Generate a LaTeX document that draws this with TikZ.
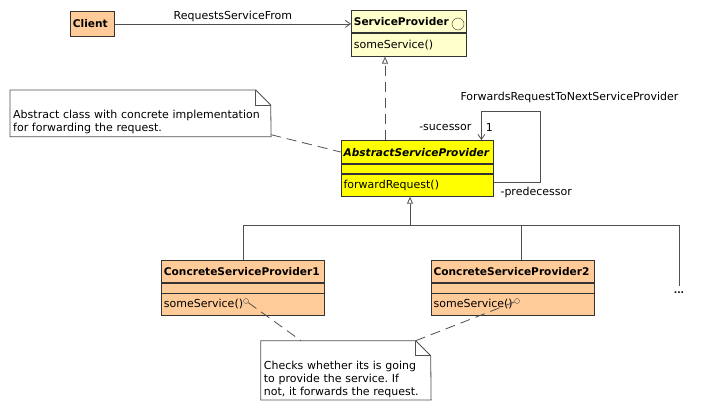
\documentclass[tikz,border=0pt]{standalone}
\usepackage{fontspec}
\setmainfont{DejaVu Sans}
\usetikzlibrary{arrows.meta}
\usetikzlibrary{positioning}

\definecolor{peach}{HTML}{FFCC99}
\definecolor{paleyellow}{HTML}{FFFFCC}
\definecolor{brightyellow}{HTML}{FFFF00}
\definecolor{boxline}{HTML}{333333}
\definecolor{linkgray}{HTML}{505050}

\newcommand{\umlfont}{\fontsize{11}{13}\selectfont}
\newcommand{\umlbold}{\fontsize{10.6}{13}\selectfont\bfseries}
\frenchspacing

\tikzset{
    every node/.style={font=\umlfont},
    compartment/.style={draw=boxline, line width=0.8pt, inner xsep=2.5pt, inner ysep=0pt, align=left, anchor=north west},
    header/.style={compartment, font=\umlbold},
    link/.style={draw=linkgray, line width=0.8pt},
    notelink/.style={link, dash pattern=on 10pt off 6pt},
    notetext/.style={inner xsep=3pt, inner ysep=2.5pt, align=left, anchor=south west},
    navarrow/.style={-{Straight Barb[length=5pt,width=7pt]}},
    genarrow/.style={-{Triangle[open,length=7pt,width=6pt]}},
}

\begin{document}
\begin{tikzpicture}[x=1pt, y=-1pt]
    \useasboundingbox (0,0) rectangle (709,410);

    \node [header, fill=peach, text width=39pt, minimum height=25pt] (client) at (70,11) {Client};

    \node [header, fill=paleyellow, text width=110pt, minimum height=22pt] (spName) at (351,10) {ServiceProvider};
    \node [compartment, fill=paleyellow, text width=110pt, minimum height=23pt, below=0pt of spName] (spOps) {someService()};
    \node [draw=boxline, circle, inner sep=0pt, minimum size=12pt] (spIcon) at (458,24) {};

    \node [header, fill=brightyellow, text width=147.6pt, minimum height=23.3pt, font=\umlbold\itshape] (absName) at (340.7,140) {AbstractServiceProvider};
    \node [compartment, fill=brightyellow, text width=147.6pt, minimum height=9pt, below=0pt of absName] (absAttr) {};
    \node [compartment, fill=brightyellow, text width=147.6pt, minimum height=22pt, below=0pt of absAttr] (absOps) {forwardRequest()};

    \node [header, fill=peach, text width=158pt, minimum height=22.3pt] (cspOneName) at (161,260) {ConcreteServiceProvider1};
    \node [compartment, fill=peach, text width=158pt, minimum height=9.4pt, below=0pt of cspOneName] (cspOneAttr) {};
    \node [compartment, fill=peach, text width=158pt, minimum height=21.6pt, below=0pt of cspOneAttr] (cspOneOps) {someService()};
    \node [draw=linkgray, circle, inner sep=0pt, minimum size=5pt] (cspOneDot) at (246,301) {};

    \node [header, fill=peach, text width=158pt, minimum height=22.3pt] (cspTwoName) at (430.7,260) {ConcreteServiceProvider2};
    \node [compartment, fill=peach, text width=158pt, minimum height=9.4pt, below=0pt of cspTwoName] (cspTwoAttr) {};
    \node [compartment, fill=peach, text width=158pt, minimum height=21.6pt, below=0pt of cspTwoAttr] (cspTwoOps) {someService()};
    \node [draw=linkgray, circle, inner sep=0pt, minimum size=5pt] (cspTwoDot) at (517,301) {};

    \node [font=\fontsize{9}{11}\selectfont\bfseries] (more) at (679,293) {...};

    \node [notetext, text width=254.7pt] (noteAbs) at (10,136.7) {Abstract class with concrete implementation\\for forwarding the request.};
    \coordinate (noteAbsNW) at (10,90);
    \coordinate (noteAbsFold) at (255.7,90);
    \coordinate (noteAbsEar) at (270.7,105);
    \draw [link] (noteAbs.south west) -- (noteAbsNW) -- (noteAbsFold) -- (noteAbsEar) -- (noteAbs.south east) -- cycle;
    \draw [link] (noteAbsFold) |- (noteAbsEar);

    \node [notetext, text width=164pt] (noteConcrete) at (260.7,400) {Checks whether its is going\\to provide the service. If\\not, it forwards the request.};
    \coordinate (noteConcreteNW) at (260.7,340.7);
    \coordinate (noteConcreteTop) at (301,340.7);
    \coordinate (noteConcreteFold) at (415.7,340.7);
    \coordinate (noteConcreteEar) at (430.7,355.7);
    \draw [link] (noteConcrete.south west) -- (noteConcreteNW) -- (noteConcreteFold) -- (noteConcreteEar) -- (noteConcrete.south east) -- cycle;
    \draw [link] (noteConcreteFold) |- (noteConcreteEar);

    \draw [link, navarrow] (client) -- (client -| spName.west) node [midway, above, inner sep=2pt] {RequestsServiceFrom};

    \coordinate (realFoot) at (385,140);
    \draw [link, genarrow, dash pattern=on 10pt off 6pt] (realFoot) -- (realFoot |- spOps.south);

    \coordinate (genBus) at (410,225);
    \draw [link, genarrow] (genBus) -- (genBus |- absOps.south);
    \draw [link] (cspOneName.north) |- (genBus);
    \draw [link] (genBus) -| ([xshift=8.3pt]cspTwoName.north);
    \draw [link] (genBus) -| ([yshift=3pt]more.north);

    \coordinate (loopCorner) at (540,111);
    \draw [link, navarrow] ([yshift=3pt]absOps.east) -| (loopCorner) -| ([xshift=64pt]absName.north);
    \node [right] (loopLabel) at (457,97) {ForwardsRequestToNextServiceProvider};
    \node [left] (succLabel) at (475,127) {-sucessor};
    \node (succMult) at (489.3,127) {1};
    \node [right] (predLabel) at (497,192) {-predecessor};

    \draw [notelink] ([yshift=2pt]noteAbs.south east) -- (absName.west);
    \draw [notelink] (cspOneDot) -- (noteConcreteTop);
    \draw [notelink] (cspTwoDot) -- (noteConcreteFold);
\end{tikzpicture}
\end{document}
